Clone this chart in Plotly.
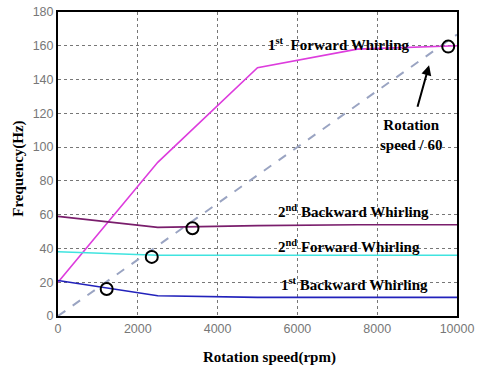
import plotly.graph_objects as go

rpm = [0, 2500, 5000, 7500, 10000]
fwd1 = [20, 91, 147, 158, 160]
bwd2 = [59, 52.5, 53.5, 54, 54]
fwd2 = [38, 36, 36, 36, 36]
bwd1 = [21, 12, 11, 11, 11]
speed_rpm = [0, 10000]
speed_hz = [0, 10000 / 60]
crit_x = [1220, 2350, 3370, 9780]
crit_y = [16, 35, 52, 159.5]
x_ticks = [0, 2000, 4000, 6000, 8000, 10000]
y_ticks = [0, 20, 40, 60, 80, 100, 120, 140, 160, 180]

fig = go.Figure()
fig.add_trace(go.Scatter(x=speed_rpm, y=speed_hz, mode="lines",
                         line=dict(color="#9AA4C2", width=2, dash="dash")))
fig.add_trace(go.Scatter(x=rpm, y=fwd1, mode="lines", line=dict(color="#DD3CDD", width=1.6)))
fig.add_trace(go.Scatter(x=rpm, y=bwd2, mode="lines", line=dict(color="#7A1E6C", width=1.6)))
fig.add_trace(go.Scatter(x=rpm, y=fwd2, mode="lines", line=dict(color="#40E4E0", width=1.6)))
fig.add_trace(go.Scatter(x=rpm, y=bwd1, mode="lines", line=dict(color="#2222BB", width=1.6)))
fig.add_trace(go.Scatter(x=crit_x, y=crit_y, mode="markers",
                         marker=dict(symbol="circle-open", size=12, color="black",
                                     line=dict(width=2, color="black"))))

tf = dict(family="Liberation Serif", size=15, color="black")
ann = [
    dict(x=7040, y=161, text="<b>1<sup>st</sup>  Forward Whirling</b>"),
    dict(x=7400, y=62, text="<b>2<sup>nd</sup> Backward Whirling</b>"),
    dict(x=7300, y=41.4, text="<b>2<sup>nd</sup> Forward Whirling</b>"),
    dict(x=7430, y=19, text="<b>1<sup>st</sup> Backward Whirling</b>"),
    dict(x=8870, y=107, text="<b>Rotation<br>speed / 60</b>"),
]
annotations = [dict(a, xref="x", yref="y", showarrow=False, font=tf) for a in ann]
annotations.append(dict(x=9300, y=148.5, ax=9000, ay=123, xref="x", yref="y",
                        axref="x", ayref="y", showarrow=True, arrowhead=2,
                        arrowsize=1, arrowwidth=2, arrowcolor="black", text=""))
title_font = dict(family="Liberation Serif", size=15, color="black")
annotations.append(dict(x=0.531, y=-0.138, xref="paper", yref="paper",
                        xanchor="center", yanchor="middle", showarrow=False,
                        text="<b>Rotation speed(rpm)</b>", font=title_font))
annotations.append(dict(x=-0.098, y=0.484, xref="paper", yref="paper",
                        xanchor="center", yanchor="middle", showarrow=False,
                        textangle=-90, text="<b>Frequency(Hz)</b>", font=title_font))

axis_common = dict(showgrid=True, gridcolor="#777777", griddash="dot", gridwidth=1,
                   showline=True, linecolor="black", linewidth=2, mirror=True,
                   zeroline=False, ticks="", automargin=False,
                   tickfont=dict(family="Liberation Sans", size=12.5, color="#777777"))
fig.update_layout(
    width=477, height=372,
    margin=dict(l=58, r=20, t=12, b=56, autoexpand=False),
    paper_bgcolor="white", plot_bgcolor="white",
    showlegend=False,
    xaxis=dict(range=[0, 10000], tickvals=x_ticks, ticktext=[str(v) for v in x_ticks],
               **axis_common),
    yaxis=dict(range=[0, 180], tickvals=y_ticks, ticktext=[str(v) for v in y_ticks],
               **axis_common),
    annotations=annotations,
)
fig.write_html("out.html", config={"displayModeBar": False},
               post_script="document.body.style.margin='0';document.body.style.overflow='hidden';")
